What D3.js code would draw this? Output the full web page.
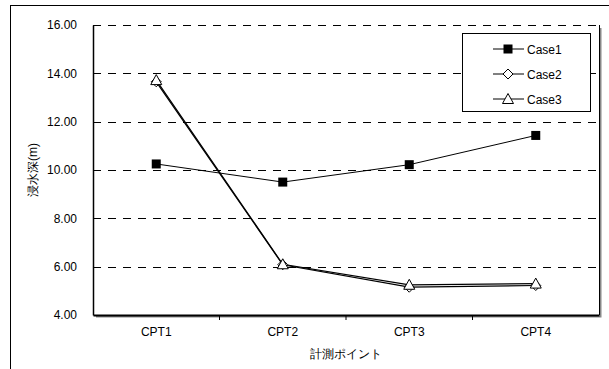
<!DOCTYPE html>
<html>
<head>
<meta charset="utf-8">
<script src="https://cdn.jsdelivr.net/npm/d3@7"></script>
<style>
  body { margin: 0; background: #fff; }
  text { font-family: "Liberation Sans", Arial, sans-serif; font-size: 12px; fill: #000; }
</style>
</head>
<body>
<svg id="chart" width="609" height="369"></svg>
<script>
const points = ["CPT1", "CPT2", "CPT3", "CPT4"];
const case1 = [10.25, 9.50, 10.22, 11.43];
const case2 = [13.65, 6.08, 5.15, 5.22];
const case3 = [13.72, 6.10, 5.25, 5.30];
const yTicks = [4, 6, 8, 10, 12, 14, 16];
const seriesNames = ["Case1", "Case2", "Case3"];

const svg = d3.select("#chart");
const plotLeft = 93, plotTop = 25, plotRight = 599, plotBottom = 315;

// outer frame
svg.append("rect")
  .attr("x", 10.5).attr("y", 5.5)
  .attr("width", 620).attr("height", 400)
  .attr("fill", "none").attr("stroke", "#000");

const x = d3.scaleBand().domain(points).range([plotLeft, plotRight]);
const y = d3.scaleLinear().domain([4, 16]).range([plotBottom, plotTop]);

// shadow of plot area
svg.append("path")
  .attr("d", `M${plotRight + 1.5},${plotTop + 3} V${plotBottom + 1.5} H${plotLeft + 3}`)
  .attr("fill", "none").attr("stroke", "#888").attr("stroke-width", 2);

// grid lines
svg.append("g")
  .selectAll("line")
  .data(yTicks.slice(1))
  .join("line")
  .attr("x1", plotLeft).attr("x2", plotRight)
  .attr("y1", d => Math.round(y(d)) + 0.5).attr("y2", d => Math.round(y(d)) + 0.5)
  .attr("stroke", "#000")
  .attr("stroke-dasharray", "8,7");

// right border
svg.append("line")
  .attr("x1", plotRight + 0.5).attr("x2", plotRight + 0.5)
  .attr("y1", plotTop).attr("y2", plotBottom)
  .attr("stroke", "#000");

// y axis
svg.append("g")
  .attr("transform", `translate(${plotLeft},0)`)
  .call(d3.axisLeft(y).tickValues(yTicks).tickFormat(d3.format(".2f")).tickSize(0).tickPadding(16))
  .call(g => g.select(".domain").attr("stroke", "#000").attr("stroke-width", 1.5))
  .call(g => g.selectAll("text").style("font-size", "12px").attr("font-family", null));

// x axis
svg.append("g")
  .attr("transform", `translate(0,${plotBottom})`)
  .call(d3.axisBottom(x).tickSize(0).tickPadding(12))
  .call(g => g.select(".domain").attr("stroke", "#000").attr("stroke-width", 2))
  .call(g => g.selectAll("text").style("font-size", "12px").attr("font-family", null));

// tick marks between categories
svg.append("g")
  .selectAll("line")
  .data(points.slice(1))
  .join("line")
  .attr("x1", d => x(d)).attr("x2", d => x(d))
  .attr("y1", plotBottom).attr("y2", plotBottom + 5)
  .attr("stroke", "#000");

// axis titles
svg.append("text")
  .attr("x", (plotLeft + plotRight) / 2).attr("y", 358)
  .attr("text-anchor", "middle")
  .text("計測ポイント");

svg.append("text")
  .attr("transform", "rotate(-90)")
  .attr("x", -170).attr("y", 37)
  .attr("text-anchor", "middle")
  .text("浸水深(m)");

const line = d3.line()
  .x((d, i) => x(points[i]) + x.bandwidth() / 2)
  .y(d => y(d));

const allSeries = [case1, case2, case3];

function drawMarker(g, kind, cx, cy) {
  if (kind === 0) {
    g.append("rect")
      .attr("x", cx - 4.5).attr("y", cy - 4.5)
      .attr("width", 9).attr("height", 9)
      .attr("fill", "#000");
  } else if (kind === 1) {
    g.append("path")
      .attr("d", `M${cx},${cy - 5} L${cx + 5},${cy} L${cx},${cy + 5} L${cx - 5},${cy} Z`)
      .attr("fill", "#fff").attr("stroke", "#000");
  } else {
    g.append("path")
      .attr("d", `M${cx},${cy - 5.5} L${cx + 5.5},${cy + 4.5} L${cx - 5.5},${cy + 4.5} Z`)
      .attr("fill", "#fff").attr("stroke", "#000");
  }
}

allSeries.forEach((vals, k) => {
  svg.append("path")
    .datum(vals)
    .attr("d", line)
    .attr("fill", "none")
    .attr("stroke", "#000")
    .attr("stroke-width", k === 0 ? 1 : 1.2);
});

allSeries.forEach((vals, k) => {
  const g = svg.append("g");
  vals.forEach((v, i) => {
    drawMarker(g, k, x(points[i]) + x.bandwidth() / 2, y(v));
  });
});

// legend
const legend = svg.append("g");
legend.append("rect")
  .attr("x", 462.5).attr("y", 33.5)
  .attr("width", 128).attr("height", 78)
  .attr("fill", "#fff").attr("stroke", "#000");

seriesNames.forEach((name, i) => {
  const ly = 49 + i * 25;
  legend.append("line")
    .attr("x1", 493).attr("x2", 524)
    .attr("y1", ly).attr("y2", ly)
    .attr("stroke", "#000");
  drawMarker(legend, i, 508, ly);
  legend.append("text")
    .attr("x", 527).attr("y", ly + 4.5)
    .text(name);
});
</script>
</body>
</html>
